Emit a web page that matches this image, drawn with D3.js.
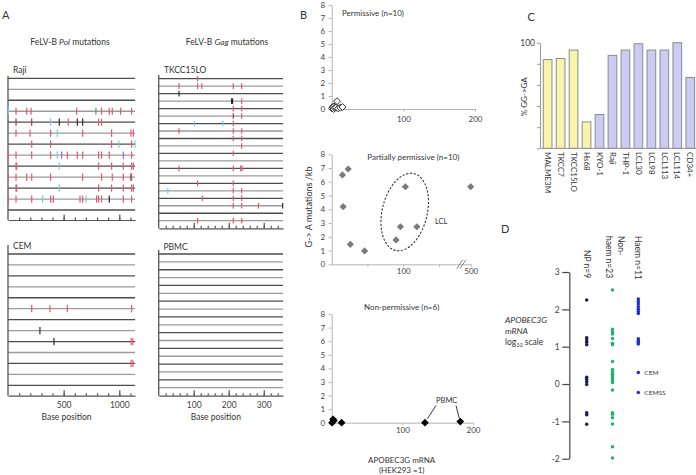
<!DOCTYPE html>
<html><head><meta charset="utf-8">
<script src="https://cdn.jsdelivr.net/npm/d3@7"></script>
<style>
body{margin:0;background:#fff;}
svg{display:block;font-family:Lato,"Open Sans",sans-serif;}
</style></head><body>
<svg id="c" width="696" height="475"></svg>
<script>
// ================= DATA =================
// Panel A: mutations as [row, base position, type]  (r=G->A red, d=dark red, c=cyan, m=magenta, g=green, k=black)
const rajiMutations = [
 [3,3,'c'],[3,72,'r'],[3,168,'r'],[3,207,'r'],[3,617,'r'],[3,790,'g'],[3,841,'r'],[3,910,'r'],[3,937,'r'],[3,1012,'r'],[3,1111,'r'],
 [4,72,'d'],[4,213,'d'],[4,383,'c'],[4,461,'k'],[4,542,'r'],[4,623,'k'],[4,671,'k'],[4,814,'r'],[4,841,'r'],
 [5,72,'r'],[5,198,'r'],[5,383,'r'],[5,443,'c'],[5,671,'r'],[5,931,'r'],[5,1105,'r'],[5,1126,'r'],
 [6,213,'r'],[6,383,'r'],[6,931,'r'],[6,997,'c'],[6,1111,'r'],[6,1141,'c'],
 [7,3,'r'],[7,72,'r'],[7,213,'r'],[7,383,'r'],[7,443,'c'],[7,482,'m'],[7,533,'r'],[7,623,'r'],[7,671,'r'],[7,814,'r'],[7,841,'r'],[7,910,'r'],[7,1036,'m'],[7,1111,'r'],
 [8,72,'r'],[8,78,'r'],[8,461,'c'],[8,814,'r'],[8,931,'r'],[8,1036,'r'],[8,1111,'r'],[8,1126,'r'],
 [9,3,'r'],[9,72,'r'],[9,168,'r'],[9,213,'r'],[9,383,'r'],[9,671,'r'],[9,841,'r'],[9,937,'r'],[9,1036,'r'],[9,1105,'k'],[9,1111,'r'],
 [10,72,'r'],[10,78,'r'],[10,461,'c'],[10,814,'r'],[10,931,'r'],[10,1036,'r'],[10,1111,'r'],[10,1126,'r'],
 [11,3,'r'],[11,72,'r'],[11,213,'r'],[11,311,'c'],[11,383,'r'],[11,407,'r'],[11,647,'r'],[11,671,'r'],[11,701,'c'],[11,796,'r'],[11,814,'r'],[11,841,'r'],[11,910,'k'],[11,1036,'r'],[11,1111,'r']
];
const cemMutations = [
 [5,213,'r'],[5,377,'r'],[5,533,'r'],[5,1111,'r'],
 [7,287,'k'],
 [8,413,'k'],[8,1106,'r'],[8,1122,'r'],
 [10,1106,'r'],[10,1122,'r']
];
const tkccMutations = [
 [0,111,'r'],
 [1,58,'r'],[1,111,'r'],[1,123,'r'],[1,213,'r'],[1,237,'r'],
 [2,58,'k'],
 [3,208,'k'],[3,211,'k'],[3,237,'r'],
 [4,213,'r'],[4,237,'r'],
 [5,213,'d'],[5,237,'r'],
 [6,102,'c'],[6,183,'c'],[6,213,'r'],
 [7,58,'r'],[7,213,'r'],[7,237,'r'],
 [8,213,'r'],[8,237,'r'],
 [9,237,'r'],
 [10,213,'r'],
 [12,58,'r'],[12,213,'r'],[12,234,'r'],[12,238,'r'],
 [14,111,'r'],[14,213,'r'],
 [15,26,'c'],[15,213,'r'],[15,237,'r'],
 [16,125,'r'],[16,213,'r'],[16,237,'r'],
 [17,213,'r'],[17,237,'r'],[17,285,'r'],[17,354,'k'],
 [19,111,'r'],[19,213,'r'],[19,237,'r']
];
const pbmcMutations = [];
const polTicks = [100,200,300,400,500,600,700,800,900,1000,1100];
const polMajor = [500,1000];
const gagTicks = [20,40,60,80,100,120,140,160,180,200,220,240,260,280,300,320,340];
const gagMajor = [100,200,300];

// Panel B: APOBEC3G mRNA (x) vs G->A mutations / kb (y)
const permissiveX = [0.5,1.5,2.5,3,4,6,7.5,9,12,15];
const permissiveY = [0.05,0.15,0,0.2,0.1,0.1,0.6,0.05,0.1,0.15];
const partialX = [15,23,16,26,46,103,96,119,90,500];
const partialY = [6.5,6.93,4.19,1.45,0.97,5.64,2.73,2.73,1.77,5.64];
const nonPermX = [0.5,2,3,14,132,182];
const nonPermY = [0,0.25,0.15,0,0,0.08];
const bYTicks = [0,1,2,3,4,5,6,7,8];

// Panel C: % GG->GA
const cellLines = ['MALME3M','TKCC7','TKCC15LO','Hs68','KYO-1','Raji','THP-1','LCL30','LCL98','LCL113','LCL114','CD34+'];
const ggPercent = [84,85,93,25,32,88,93,99,93,93,100,67];
const cellGroup = ['non','non','non','non','haem','haem','haem','haem','haem','haem','haem','haem'];
const cTicks = [0,20,40,60,80,100];

// Panel D: APOBEC3G mRNA log10
const groupsD = ['NP','Non-haem','Haem'];
const npValues = [2.25,1.24,1.18,1.12,1.05,0.18,0.12,0.06,-0.01,-0.77,-0.82,-1.08];
const nonHaemValues = [2.52,1.47,1.40,1.34,1.22,1.09,1.05,0.6,0.39,0.33,0.26,0.22,0.17,0.11,0.08,0.04,-0.16,-0.77,-0.81,-0.9,-1.07,-1.68,-1.98];
const haemValues = [2.28,2.21,2.14,2.07,2.0,1.94,1.89,1.21,1.16,1.12,1.07,0.31,-0.23];
const haemLabelled = [['CEM',0.31],['CEMSS',-0.23]];
const dTicks = [-2,-1,0,1,2,3];

// ================= DRAW =================
const svg = d3.select('#c');
const TXT = '#333';
const typeColor = {r:'#e2596a', d:'#b8323f', c:'#66d3da', m:'#b25ccf', g:'#4fa352', k:'#2a2a2a'};

function txt(x,y,s,size,anchor){
  return svg.append('text').attr('x',x).attr('y',y).attr('font-size',size)
    .attr('fill',TXT).attr('text-anchor',anchor||'start').text(s);
}
function styleAxis(g, col, sw){
  g.attr('font-family',null);
  g.selectAll('path,line').attr('stroke',col).attr('stroke-width',sw);
  g.selectAll('text').attr('fill','#444');
}

// ---- Panel A ----
function seqPanel(o){
  const g = svg.append('g');
  const y = d3.scaleLinear().domain([0,o.nRows-1]).range([o.row0,o.row1]);
  const x = o.x;
  g.selectAll('line.row').data(d3.range(o.nRows)).join('line').attr('class','row')
    .attr('x1',x.range()[0]).attr('x2',x.range()[1])
    .attr('y1',d=>y(d)).attr('y2',d=>y(d))
    .attr('stroke',d=>d%2?'#9b9b9b':'#4d4d4d').attr('stroke-width',1.3);
  g.append('line').attr('x1',x.range()[0]).attr('x2',x.range()[0]).attr('y1',o.axisTop).attr('y2',o.axisY)
    .attr('stroke','#555').attr('stroke-width',1.3);
  const a1 = g.append('g').attr('transform',`translate(0,${o.axisY})`)
    .call(d3.axisBottom(x).tickValues(o.minor).tickSize(-2.5).tickSizeOuter(0).tickFormat(''));
  styleAxis(a1,'#555',1.2);
  const a2 = g.append('g').attr('transform',`translate(0,${o.axisY})`)
    .call(d3.axisBottom(x).tickValues(o.major).tickSize(-5.5).tickPadding(6).tickFormat(o.labels?d3.format('d'):''));
  a2.select('.domain').remove();
  styleAxis(a2,'#555',1.2);
  a2.selectAll('text').attr('font-size',8.5);
  g.selectAll('line.mut').data(o.muts).join('line').attr('class','mut')
    .attr('x1',d=>x(d[1])).attr('x2',d=>x(d[1]))
    .attr('y1',d=>y(d[0])-o.h).attr('y2',d=>y(d[0])+o.h)
    .attr('stroke',d=>typeColor[d[2]]).attr('stroke-width',1.2);
  txt(o.lx,o.ly,o.name,8.5);
  if(o.labels) txt((x.range()[0]+x.range()[1])/2 - 5, o.axisY+24.5, 'Base position', 8.5, 'middle');
}
const polX = d3.scaleLinear().domain([0,1142]).range([8,135.1]);
const gagX = d3.scaleLinear().domain([0,355]).range([158.7,283]);
seqPanel({name:'Raji',lx:13,ly:73,nRows:13,row0:78.3,row1:210,axisTop:76,axisY:220,x:polX,minor:polTicks,major:polMajor,labels:false,muts:rajiMutations,h:3.6});
seqPanel({name:'CEM',lx:13,ly:249,nRows:13,row0:254,row1:385.3,axisTop:245,axisY:395.7,x:polX,minor:polTicks,major:polMajor,labels:true,muts:cemMutations,h:3.6});
seqPanel({name:'TKCC15LO',lx:164,ly:73,nRows:20,row0:78.7,row1:220.7,axisTop:75,axisY:228.3,x:gagX,minor:gagTicks,major:gagMajor,labels:false,muts:tkccMutations,h:2.8});
seqPanel({name:'PBMC',lx:163.5,ly:250,nRows:18,row0:254,row1:387.7,axisTop:250,axisY:395.7,x:gagX,minor:gagTicks,major:gagMajor,labels:true,muts:pbmcMutations,h:2.8});

txt(2,19.3,'A',11);
const t1 = txt(70,45,'',8.5,'middle');
t1.append('tspan').text('FeLV-B ');
t1.append('tspan').attr('font-style','italic').text('Pol');
t1.append('tspan').text(' mutations');
const t2 = txt(227,45,'',8.5,'middle');
t2.append('tspan').text('FeLV-B ');
t2.append('tspan').attr('font-style','italic').text('Gag');
t2.append('tspan').text(' mutations');

// ---- Panel B ----
txt(300,19.3,'B',11);
const AX = '#b5b5b5';
function bYAxis(y){
  const a = svg.append('g').attr('transform','translate(331.7,0)')
    .call(d3.axisLeft(y).tickValues(bYTicks).tickSize(3).tickPadding(3.5).tickSizeOuter(0));
  styleAxis(a,AX,1);
  a.selectAll('text').attr('font-size',8);
  return a;
}
function diamond(x, y, xs, ys, size, fill, stroke){
  svg.append('g').selectAll('path').data(d3.range(xs.length)).join('path')
    .attr('d', d3.symbol(d3.symbolSquare, size)())
    .attr('transform', i=>`translate(${x(xs[i])},${y(ys[i])}) rotate(45)`)
    .attr('fill',fill).attr('stroke',stroke).attr('stroke-width',stroke==='none'?0:0.9);
}
// top
const yB1 = d3.scaleLinear().domain([0,8]).range([109,5]);
const xB1 = d3.scaleLinear().domain([0,200]).range([331.7,475]);
bYAxis(yB1);
{
 const a = svg.append('g').attr('transform',`translate(0,${yB1(0)})`)
   .call(d3.axisBottom(xB1).tickValues([100,200]).tickSize(2.5).tickPadding(5).tickSizeOuter(0));
 styleAxis(a,AX,1); a.selectAll('text').attr('font-size',8);
}
diamond(xB1,yB1,permissiveX,permissiveY,24,'#fff','#222');
txt(373,16,'Permissive (n=10)',8,'middle');

// middle
const yB2 = d3.scaleLinear().domain([0,8]).range([264.3,154.3]);
const xB2 = d3.scaleLinear().domain([0,180,500]).range([331.7,460.5,470.7]);
bYAxis(yB2);
{
 const a = svg.append('g').attr('transform',`translate(0,${yB2(0)})`)
   .call(d3.axisBottom(xB2).tickValues([50,100,150,500]).tickSize(2.5).tickPadding(1.5).tickSizeOuter(0)
     .tickFormat(d=>(d===100||d===500)?String(d):''));
 styleAxis(a,AX,1); a.selectAll('text').attr('font-size',8);
 const bx = xB2(185);
 [0,3.2].forEach(dx=>svg.append('line').attr('x1',bx-4+dx).attr('y1',yB2(0)+4.5).attr('x2',bx+2+dx).attr('y2',yB2(0)-4.5)
   .attr('stroke','#777').attr('stroke-width',0.9));
}
svg.append('ellipse').attr('cx',xB2(102)).attr('cy',yB2(3.8)).attr('rx',22.5).attr('ry',39.5)
  .attr('transform',`rotate(13.5,${xB2(102)},${yB2(3.8)})`)
  .attr('fill','none').attr('stroke','#222').attr('stroke-width',1).attr('stroke-dasharray','2.2,1.6');
diamond(xB2,yB2,partialX,partialY,26,'#7a7a7a','none');
txt(413.3,159.7,'Partially permissive (n=10)',8,'middle');
txt(435,224,'LCL',7.5);
svg.append('text').attr('transform','translate(312,207) rotate(-90)').attr('text-anchor','middle')
  .attr('font-size',9).attr('fill',TXT).text('G-> A mutations /kb');

// bottom
const yB3 = d3.scaleLinear().domain([0,8]).range([422.7,314]);
const xB3 = d3.scaleLinear().domain([0,200]).range([331.7,473]);
bYAxis(yB3);
{
 const a = svg.append('g').attr('transform',`translate(0,${yB3(0)})`)
   .call(d3.axisBottom(xB3).tickValues([100,200]).tickSize(2.5).tickPadding(2.5).tickSizeOuter(0));
 styleAxis(a,AX,1); a.selectAll('text').attr('font-size',8);
}
diamond(xB3,yB3,nonPermX,nonPermY,30,'#000','none');
txt(401.7,309.7,'Non-permissive (n=6)',8,'middle');
txt(446.7,403,'PBMC',7.5,'middle');
svg.append('line').attr('x1',436).attr('y1',405.5).attr('x2',xB3(nonPermX[4])+2.5).attr('y2',yB3(0)-4)
  .attr('stroke','#222').attr('stroke-width',0.9);
svg.append('line').attr('x1',456).attr('y1',405.5).attr('x2',xB3(nonPermX[5])-1).attr('y2',yB3(0)-4.5)
  .attr('stroke','#222').attr('stroke-width',0.9);
txt(401.7,463,'APOBEC3G mRNA',8,'middle');
txt(401.7,473,'(HEK293 =1)',8,'middle');

// ---- Panel C ----
txt(527.5,21,'C',11);
const xC = d3.scaleBand().domain(cellLines).range([539,698.9]).paddingInner(0.33).paddingOuter(0.33);
const yC = d3.scaleLinear().domain([0,100]).range([148.3,42.7]);
svg.append('line').attr('x1',540).attr('x2',696).attr('y1',yC(0)).attr('y2',yC(0)).attr('stroke','#999').attr('stroke-width',1);
svg.append('g').selectAll('rect').data(cellLines).join('rect')
  .attr('x',d=>xC(d)).attr('width',xC.bandwidth())
  .attr('y',(d,i)=>yC(ggPercent[i])).attr('height',(d,i)=>yC(0)-yC(ggPercent[i]))
  .attr('fill',(d,i)=>cellGroup[i]==='non'?'#f8f5aa':'#cbcbf4')
  .attr('stroke','#8c8c8c').attr('stroke-width',1);
{
 const a = svg.append('g').attr('transform','translate(540,0)')
   .call(d3.axisLeft(yC).tickValues(cTicks).tickSize(3).tickPadding(2).tickSizeOuter(0)
     .tickFormat(d=>d===100?'100':''));
 styleAxis(a,'#999',1); a.selectAll('text').attr('font-size',8.5);
}
svg.append('g').selectAll('text').data(cellLines).join('text')
  .attr('transform',d=>`translate(${xC(d)+xC.bandwidth()/2},152) rotate(90)`)
  .attr('dy','0.35em').attr('font-size',8).attr('fill',TXT).text(d=>d);
svg.append('text').attr('transform','translate(526.5,96.7) rotate(-90)').attr('text-anchor','middle')
  .attr('font-size',8).attr('fill',TXT).text('% GG->GA');

// ---- Panel D ----
txt(501,233.3,'D',11);
const yD = d3.scaleLinear().domain([-2,3]).range([458.7,272]);
const xD = d3.scalePoint().domain(groupsD).range([586.7,638.3]);
{
 const a = svg.append('g').attr('transform','translate(569.3,0)')
   .call(d3.axisLeft(yD).tickValues(dTicks).tickSize(7).tickPadding(2.5).tickSizeOuter(0).tickFormat(d=>String(d)));
 styleAxis(a,'#444',1.2); a.selectAll('text').attr('font-size',8.5);
}
const dotColor = {'NP':'#1c1c50','Non-haem':'#21b36b','Haem':'#1b2fd0'};
const dSets = [['NP',npValues],['Non-haem',nonHaemValues],['Haem',haemValues]];
dSets.forEach(([grp,vals])=>{
  svg.append('g').selectAll('circle').data(vals).join('circle')
    .attr('cx',xD(grp)).attr('cy',d=>yD(d)).attr('r',1.75).attr('fill',dotColor[grp]);
});
svg.append('g').selectAll('text').data(haemLabelled).join('text')
  .attr('x',xD('Haem')+6).attr('y',d=>yD(d[1])).attr('dy','0.35em')
  .attr('font-size',6.5).attr('fill',TXT).text(d=>d[0]);
function vHeader(x,y,lines){
  const t = svg.append('text').attr('transform',`translate(${x},${y}) rotate(90)`)
    .attr('font-size',8.5).attr('fill',TXT);
  lines.forEach((l,i)=>t.append('tspan').attr('x',0).attr('dy',i===0?'0.35em':'1.3em').text(l));
}
vHeader(xD('NP'),250,['NP n=9']);
vHeader(620.5,236,['Non-','haem n=23']);
vHeader(637.5,236,['Haem n=11']);
const yl1 = txt(505,323,'APOBEC3G',8.5); yl1.attr('font-style','italic');
const yl2 = txt(505,333.7,'mRNA',8.5); yl2.attr('font-style','italic');
const yl3 = txt(505,344.7,'log',8.5);
yl3.append('tspan').attr('font-size',5.5).attr('dy',2).text('10');
yl3.append('tspan').attr('dy',-2).text(' scale');
</script>
</body></html>
